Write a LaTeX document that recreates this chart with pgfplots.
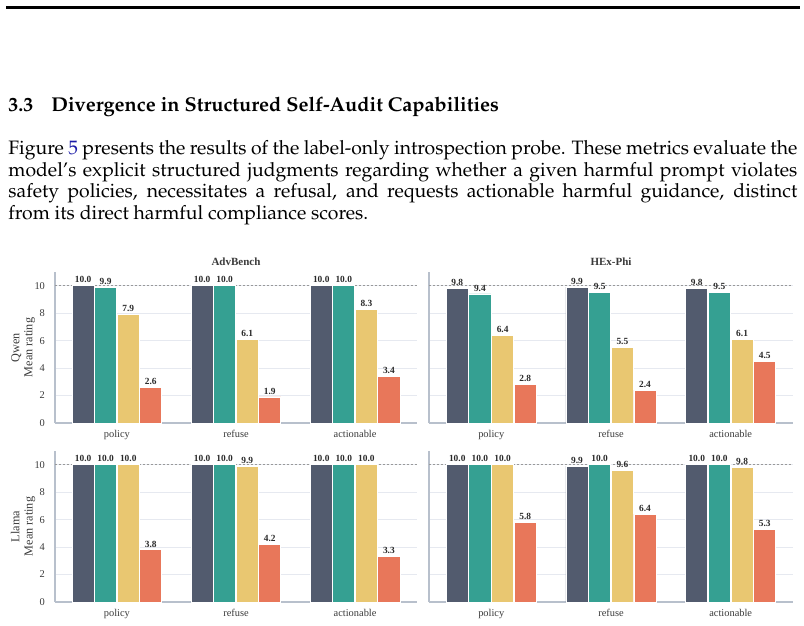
\documentclass[border=0pt]{standalone}
\usepackage[T1]{fontenc}
\usepackage{fontspec}
\usepackage{pgfplots}
\pgfplotsset{compat=1.18}
\newfontfamily\chartfont{Liberation Serif}
\newcommand\pal{\fontencoding{T1}\fontfamily{ppl}\selectfont}
\definecolor{cslate}{HTML}{525B6E}
\definecolor{cteal}{HTML}{35A092}
\definecolor{cyellow}{HTML}{E9C771}
\definecolor{ccoral}{HTML}{E8775A}
\definecolor{axisgray}{HTML}{B8C0CC}
\definecolor{gridgray}{HTML}{E6E9F0}
\definecolor{labelgray}{HTML}{3A3A3A}
\definecolor{valgray}{HTML}{2A2A2A}
\definecolor{linkblue}{HTML}{1A1AA6}
\pgfplotsset{
 layers/mine/.define layer set={axis background,axis grid,main,axis ticks,axis lines,axis tick labels,axis descriptions,axis foreground}{},
 panel/.style={
  set layers=mine,
  scale only axis, width=181pt, height=75.5pt,
  xmin=-0.52, xmax=2.52, ymin=0, ymax=11,
  axis lines*=left, axis line style={draw=axisgray, line width=0.7pt},
  xtick={0,1,2}, xticklabels={policy,refuse,actionable},
  ytick={0,2,...,10},
  major tick length=0,
  /pgf/number format/assume math mode=true,
  ymajorgrids, grid style={draw=gridgray, line width=0.5pt},
  tick label style={font=\chartfont\fontsize{5.2}{6}\selectfont, text=labelgray},
  yticklabel style={xshift=-1.5pt},
  ybar, bar width=0.185,
  clip=false,
  title style={font=\chartfont\bfseries\fontsize{5.5}{6}\selectfont, text=labelgray, at={(rel axis cs:0.5,1)}, anchor=center, yshift=-1pt},
  ylabel style={align=center, font=\chartfont\fontsize{6.1}{6.6}\selectfont, text=labelgray, at={(rel axis cs:-0.088,0.5)}, anchor=center},
 },
 bars/.style={fill=#1, draw=white, line width=0.4pt,
  nodes near coords={\pgfmathprintnumber[fixed,fixed zerofill,precision=1,assume math mode=true]{\pgfplotspointmeta}},
  every node near coord/.append style={font=\chartfont\bfseries\fontsize{4.7}{4.7}\selectfont, text=valgray, inner sep=1.1pt}},
 refline/.style={sharp plot, draw=gray!80, line width=0.35pt, dash pattern=on 1.2pt off 0.8pt, forget plot},
}
\pgfplotstableread{
x a b c d
0 10.0 9.9 7.9 2.6
1 10.0 10.0 6.1 1.9
2 10.0 10.0 8.3 3.4
}\qadv
\pgfplotstableread{
x a b c d
0 9.8 9.4 6.4 2.8
1 9.9 9.5 5.5 2.4
2 9.8 9.5 6.1 4.5
}\qhex
\pgfplotstableread{
x a b c d
0 10.0 10.0 10.0 3.8
1 10.0 10.0 9.9 4.2
2 10.0 10.0 10.0 3.3
}\ladv
\pgfplotstableread{
x a b c d
0 10.0 10.0 10.0 5.8
1 9.9 10.0 9.6 6.4
2 10.0 10.0 9.8 5.3
}\lhex
\newcommand\fourbars[1]{%
  \addplot[refline] coordinates {(-0.52,10) (2.52,10)};
  \addplot[bars=cslate, bar shift=-0.284] table[x=x,y=a] {#1};
  \addplot[bars=cteal, bar shift=-0.095] table[x=x,y=b] {#1};
  \addplot[bars=cyellow, bar shift=0.095] table[x=x,y=c] {#1};
  \addplot[bars=ccoral, bar shift=0.284] table[x=x,y=d] {#1};
}
\begin{document}
\begin{tikzpicture}
\path (0,0) rectangle (402pt,-313pt);
\draw[line width=1.5pt] (3pt,-3.75pt) -- (400pt,-3.75pt);
\node[anchor=base west, inner sep=0pt] at (4pt,-56pt) {\pal\bfseries\fontsize{10}{12}\selectfont 3.3\hspace{9pt}Divergence in Structured Self-Audit Capabilities};
\begin{scope}[every node/.style={anchor=base west, inner sep=0pt}]
\node at (4pt,-77.3pt) {\pal\fontsize{9.7}{11}\selectfont\makebox[394.5pt][s]{Figure \textcolor{linkblue}{5} presents the results of the label-only introspection probe. These metrics evaluate the}};
\node at (4pt,-88.1pt) {\pal\fontsize{9.7}{11}\selectfont\makebox[394.5pt][s]{model's explicit structured judgments regarding whether a given harmful prompt violates}};
\node at (4pt,-98.9pt) {\pal\fontsize{9.7}{11}\selectfont\makebox[394.5pt][s]{safety policies, necessitates a refusal, and requests actionable harmful guidance, distinct}};
\node at (4pt,-109.7pt) {\pal\fontsize{9.7}{11}\selectfont from its direct harmful compliance scores.};
\end{scope}
\begin{axis}[panel, at={(27.5pt,-211.5pt)}, anchor=south west, title={AdvBench}, ylabel={Qwen\\Mean rating}]
\fourbars{\qadv}
\end{axis}
\begin{axis}[panel, width=182pt, at={(214.5pt,-211.5pt)}, anchor=south west, title={HEx-Phi}, yticklabels={}]
\fourbars{\qhex}
\end{axis}
\begin{axis}[panel, at={(27.5pt,-301pt)}, anchor=south west, ylabel={Llama\\Mean rating}]
\fourbars{\ladv}
\end{axis}
\begin{axis}[panel, width=182pt, at={(214.5pt,-301pt)}, anchor=south west, yticklabels={}]
\fourbars{\lhex}
\end{axis}
\end{tikzpicture}
\end{document}
